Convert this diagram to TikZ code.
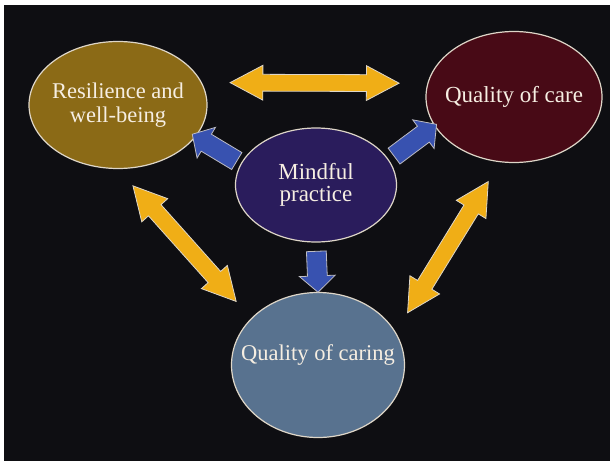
\documentclass[tikz,border=0pt]{standalone}
\usepackage{fontspec}
\setmainfont{Liberation Serif}
\usepackage{tikz}
\usetikzlibrary{shapes.geometric, shapes.arrows}

\definecolor{bg}{RGB}{14,14,18}
\definecolor{goldfill}{RGB}{139,106,22}
\definecolor{carefill}{RGB}{72,10,22}
\definecolor{mindfill}{RGB}{42,28,92}
\definecolor{caringfill}{RGB}{88,114,143}
\definecolor{yarrow}{RGB}{240,174,22}
\definecolor{barrow}{RGB}{56,82,176}
\definecolor{rim}{RGB}{222,214,200}
\definecolor{cream}{RGB}{246,238,226}

% the text is wide, so a negative x sep keeps the ellipses at their own size
\tikzstyle{bubble} = [ellipse, draw=rim, line width=1.2pt, inner xsep=-20pt, inner ysep=0pt, align=center, text=cream, font=\fontsize{22.5}{24}\selectfont]
\tikzstyle{link} = [double arrow, sloped, draw=rim, line width=0.8pt, fill=yarrow, inner xsep=0pt, inner ysep=8pt, double arrow head extend=9pt, double arrow tip angle=56]
\tikzstyle{push} = [single arrow, sloped, allow upside down, draw=rim!80!barrow, line width=0.8pt, fill=barrow, inner xsep=0pt, inner ysep=9.5pt, single arrow head extend=8pt, single arrow tip angle=95]

\begin{document}
\begin{tikzpicture}[x=1pt,y=-1pt]

\useasboundingbox (0,0) rectangle (611,461);
\fill[white] (0,0) rectangle (611,461);
\fill[bg] (4,5) rectangle (610,461);

\node (res) [bubble, fill=goldfill, minimum width=178pt, minimum height=127pt] at (118,105) {Resilience and\\well-being};
\node (care) [bubble, fill=carefill, minimum width=176pt, minimum height=131pt, font=\fontsize{23}{24}\selectfont] at (514,97) {Quality of care};
\node (mind) [bubble, fill=mindfill, minimum width=161pt, minimum height=114pt, font=\fontsize{23}{22}\selectfont] at (316,185) {Mindful\\practice};
\node (caring) [bubble, fill=caringfill, minimum width=173pt, minimum height=145pt, text depth=25pt] at (318,365) {Quality of caring};

% two-way links between the outer ellipses
\path (res.15) -- node[link, minimum height=169pt] (l1) {} (care.171);
\path (res.south) -- node[link, minimum height=155pt] (l2) {} (caring.145);
\path (care.258) -- node[link, minimum height=154pt] (l3) {} (caring.23);

% mindful practice feeds the other three
\path (mind.164) -- node[push, minimum height=52pt] (p1) {} (res.-22);
\path (mind.19) -- node[push, minimum height=53pt] (p2) {} (care.200);
\path (mind.south) -- node[push, minimum height=41pt] (p3) {} (caring.north);

\end{tikzpicture}
\end{document}
